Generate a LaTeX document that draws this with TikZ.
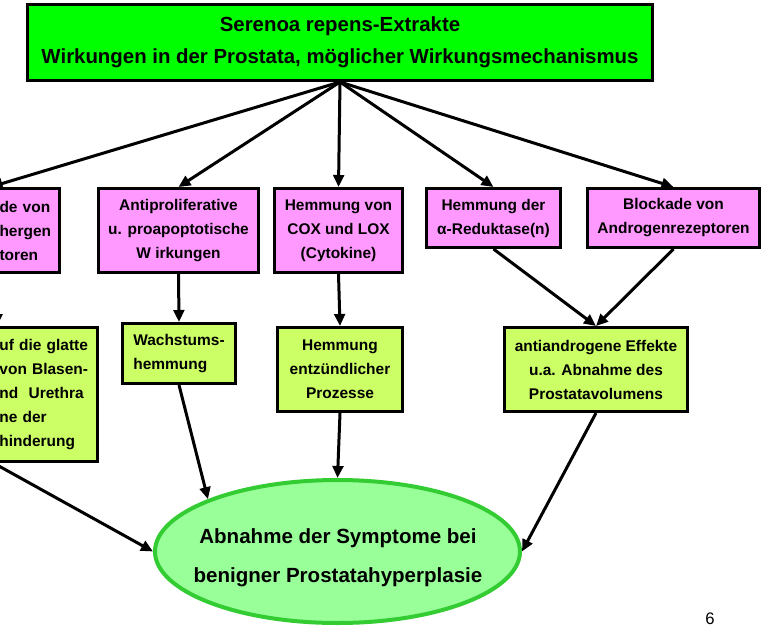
\documentclass[tikz,border=0pt]{standalone}
\usepackage{fontspec}
\setmainfont{Liberation Sans}
\usetikzlibrary{arrows.meta,shapes.geometric}

\definecolor{titlegreen}{HTML}{00FF00}
\definecolor{effectpink}{HTML}{FF99FF}
\definecolor{resultlime}{HTML}{CCFF66}
\definecolor{symfill}{HTML}{99FF99}
\definecolor{symline}{HTML}{33CC33}

\newcommand{\boxfont}{\fontsize{11.6}{18}\selectfont\bfseries}
\newcommand{\titlefont}{\fontsize{15.3}{24}\selectfont\bfseries}
\newcommand{\symfont}{\fontsize{15.4}{29}\selectfont\bfseries}

\begin{document}
\begin{tikzpicture}[x=0.75pt,y=-0.75pt,>={Triangle[length=9pt,width=8pt]},
  box/.style={draw,line width=2.25pt,inner sep=0pt,font=\boxfont,align=center},
  pinkbox/.style={box,fill=effectpink},
  limebox/.style={box,fill=resultlime},
  arr/.style={->,line width=2.25pt}]
  \clip (0,0) rectangle (764,628);

  \node (T) [box,fill=titlegreen,font=\titlefont,minimum width=468.75pt,minimum height=57pt] at (340,42.5)
    {Serenoa repens-Extrakte\\Wirkungen in der Prostata, möglicher Wirkungsmechanismus};

  \node (B1) [pinkbox,anchor=east,align=left,text width=39pt,inner xsep=5.6pt,minimum height=63pt] at (60.5,230.5) {de von\\hergen\\toren};
  \node (B2) [pinkbox,minimum width=120pt,minimum height=63pt] at (178.5,230.5) {Antiproliferative\\u. proapoptotische\\W irkungen};
  \node (B3) [pinkbox,minimum width=96pt,minimum height=63pt] at (338.5,230.5) {Hemmung von\\COX und LOX\\(Cytokine)};
  \node (B4) [pinkbox,minimum width=100.5pt,minimum height=44.25pt] at (493.5,218) {Hemmung der\\α-Reduktase(n)};
  \node (B5) [pinkbox,minimum width=129pt,minimum height=44.25pt] at (673.5,218) {Blockade von\\Androgenrezeptoren};

  \node (G1) [limebox,anchor=east,align=left,text width=69.75pt,inner xsep=3.4pt,minimum height=100.5pt] at (98.5,394.5)
    {uf die glatte\\von Blasen-\\nd\ \ Urethra\\ne der\\hinderung};
  \node (G2) [limebox,align=left,minimum width=84.75pt,minimum height=45pt] at (179,353.5) {Wachstums-\\hemmung};
  \node (G3) [limebox,minimum width=93.75pt,minimum height=63pt] at (340,369.5) {Hemmung\\entzündlicher\\Prozesse};
  \node (G4) [limebox,minimum width=137.25pt,minimum height=63pt] at (596,369.5) {antiandrogene Effekte\\u.a. Abnahme des\\Prostatavolumens};

  \node (S) [ellipse,draw=symline,fill=symfill,line width=3pt,inner sep=0pt,minimum width=273.75pt,minimum height=107.25pt] at (337.5,551.5) {};
  \node (ST) [font=\symfont,align=center] at (338,557.5) {Abnahme der Symptome bei\\benigner Prostatahyperplasie};

  \node (PG) [font=\fontsize{12.5}{14}\selectfont,inner sep=0pt] at (710,619) {6};

  \draw[arr] (T.south) -- (B1.north west);
  \draw[arr] (T.south) -- (B2.north);
  \draw[arr] (T.south) -- (B3.north);
  \draw[arr] (T.south) -- (B4.north);
  \draw[arr] (T.south) -- (B5.north);

  \draw[arr] ([xshift=4.9pt]B1.south west) -- ([xshift=4.9pt]B1.south west |- G1.north);
  \draw[arr] (B2.south) -- (G2.north);
  \draw[arr] (B3.south) -- (G3.north);
  \draw[arr] (B4.south) -- (G4.north);
  \draw[arr] (B5.south) -- (G4.north);

  \draw[arr] (G1.south west) -- (S.west);
  \draw[arr] (G2.south) -- (S.158);
  \draw[arr] (G3.south) -- (S.north);
  \draw[arr] (G4.south) -- (S.east);
\end{tikzpicture}
\end{document}
